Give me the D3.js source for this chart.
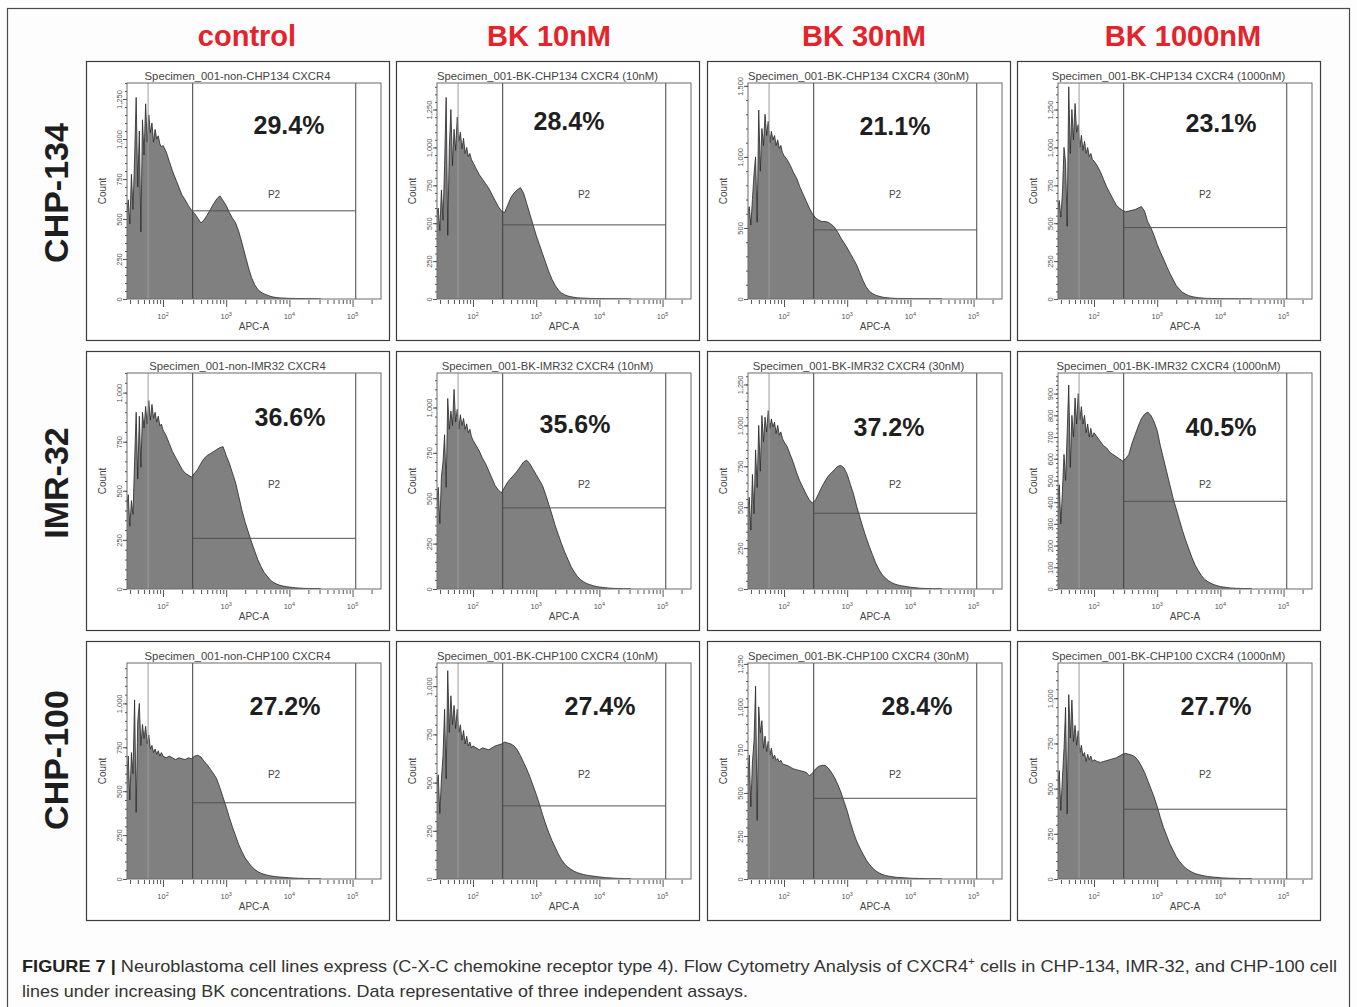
<!DOCTYPE html>
<html>
<head>
<meta charset="utf-8">
<script src="https://cdn.jsdelivr.net/npm/d3@7/dist/d3.min.js"></script>
<style>
  body { margin: 0; background: #fff; }
  svg { display: block; font-family: "Liberation Sans", Arial, sans-serif; }
</style>
</head>
<body>
<script>
// ---- data ----
var treatments = ['control', 'BK 10nM', 'BK 30nM', 'BK 1000nM'];
var cellLines = ['CHP-134', 'IMR-32', 'CHP-100'];

var specimens = [
  ['Specimen_001-non-CHP134 CXCR4', 'Specimen_001-BK-CHP134 CXCR4 (10nM)', 'Specimen_001-BK-CHP134 CXCR4 (30nM)', 'Specimen_001-BK-CHP134 CXCR4 (1000nM)'],
  ['Specimen_001-non-IMR32 CXCR4', 'Specimen_001-BK-IMR32 CXCR4 (10nM)', 'Specimen_001-BK-IMR32 CXCR4 (30nM)', 'Specimen_001-BK-IMR32 CXCR4 (1000nM)'],
  ['Specimen_001-non-CHP100 CXCR4', 'Specimen_001-BK-CHP100 CXCR4 (10nM)', 'Specimen_001-BK-CHP100 CXCR4 (30nM)', 'Specimen_001-BK-CHP100 CXCR4 (1000nM)']
];

// % of cells in gate P2
var positivePct = [
  [29.4, 28.4, 21.1, 23.1],
  [36.6, 35.6, 37.2, 40.5],
  [27.2, 27.4, 28.4, 27.7]
];

// top of the Count axis and its label step
var countMax = [
  [1350, 1425, 1520, 1425],
  [1100, 1190, 1320, 995],
  [1230, 1120, 1255, 1195]
];
var countStep = [
  [250, 250, 500, 250],
  [250, 250, 250, 100],
  [250, 250, 250, 250]
];

// P2 gate: APC-A range and the count level of its horizontal bar
var gateLow = 295, gateHigh = 112000, markerLow = 58;
var gateCount = [
  [551, 489, 486, 471],
  [258, 447, 463, 404],
  [434, 379, 469, 386]
];

// histogram bins, log10(APC-A)
var apcLog = [1.425,1.45,1.475,1.5,1.525,1.55,1.575,1.6,1.625,1.65,1.675,1.7,1.725,1.75,1.775,1.8,1.825,1.85,1.875,1.9,1.925,1.95,1.975,
  2.0,2.05,2.1,2.15,2.2,2.25,2.3,2.35,2.4,2.45,
  2.5,2.55,2.6,2.65,2.7,2.75,2.8,2.85,2.9,2.95,
  3.0,3.05,3.1,3.15,3.2,3.25,3.3,3.35,3.4,3.45,
  3.5,3.55,3.6,3.65,3.7,3.75,3.8,3.85,3.9,3.95,
  4.0,4.05,4.1,4.15,4.2,4.25,4.3,4.35,4.4,4.45,4.5];

// counts per bin
var chp134Control = [540,620,470,780,560,880,1260,700,1050,420,1120,900,1220,980,1150,1040,1100,980,1060,1000,1020,970,950,
  960,920,860,800,750,700,650,620,585,555,
  535,505,475,495,525,560,595,625,645,615,
  585,540,505,475,420,350,275,200,135,90,
  60,42,32,24,17,12,9,7,6,5,
  4,4,3,3,3,2,2,2,2,1,1];
var chp134Bk10 = [560,600,450,720,520,880,1330,420,1000,1250,880,1120,980,1200,1040,1100,990,1060,960,1000,940,960,920,
  900,860,820,790,760,730,690,650,610,580,
  570,620,670,700,720,735,700,630,560,490,
  420,360,300,240,180,130,90,60,40,28,
  20,15,11,8,7,6,5,4,4,3,
  3,3,2,2,2,2,2,1,1,1,1];
var chp134Bk30 = [600,650,520,700,880,1000,540,1330,900,1200,1080,1300,1150,1250,1100,1180,1120,1150,1080,1120,1060,1080,1030,
  1010,980,940,890,850,790,740,690,640,600,
  570,555,545,545,540,525,505,470,430,395,
  360,320,280,240,185,130,85,55,38,27,
  20,14,10,8,6,5,4,4,3,3,
  3,2,2,2,2,2,1,1,1,1,1];
var chp134Bk1000 = [600,650,540,700,1000,900,480,1400,960,1250,1050,1290,1100,1150,1000,1080,980,1040,960,1000,940,960,920,
  910,880,840,790,740,700,660,620,600,585,
  575,580,585,590,600,610,580,510,470,420,
  360,310,265,215,170,130,90,65,45,32,
  22,16,12,9,7,5,4,4,3,3,
  3,2,2,2,2,2,1,1,1,1,1];

var imr32Control = [420,480,320,450,380,650,900,560,880,620,900,820,930,840,960,860,940,870,900,850,880,830,840,
  810,780,740,700,670,640,610,590,580,570,
  590,610,640,665,680,690,700,710,720,725,
  680,640,590,540,470,400,340,290,240,195,
  150,115,85,65,45,33,25,19,15,12,
  10,8,6,5,4,3,3,2,2,2,1];
var imr32Bk10 = [480,560,360,620,700,850,560,1050,880,980,900,1100,920,990,880,960,900,940,880,910,860,880,840,
  820,790,760,720,690,650,610,570,545,530,
  560,590,610,630,650,675,700,710,690,660,
  630,600,570,520,465,410,350,300,250,205,
  165,125,95,70,52,40,30,24,18,14,
  11,9,7,5,4,3,3,2,2,2,1];
var imr32Bk30 = [480,560,360,700,460,850,620,1000,720,1060,900,1050,960,1090,980,1040,990,1020,950,1000,940,960,920,
  900,870,820,770,710,660,620,580,545,525,
  545,585,625,660,690,710,730,750,755,740,
  700,640,580,505,440,375,315,260,210,160,
  120,90,68,52,40,31,25,20,17,14,
  11,9,7,5,4,3,3,2,2,2,1];
var imr32Bk1000 = [420,480,300,450,620,500,720,940,560,800,700,880,760,900,780,840,760,800,720,760,700,740,700,
  720,700,680,660,650,630,620,610,600,590,
  600,620,670,710,750,785,805,815,800,770,
  730,660,600,540,480,420,370,320,270,225,
  185,145,110,85,62,45,34,26,20,15,
  11,9,7,5,4,3,3,2,2,2,1];

var chp100Control = [560,700,450,720,600,1020,380,900,1000,760,880,800,870,770,820,740,760,720,740,710,730,700,720,
  700,690,700,690,680,690,685,680,690,685,
  700,705,695,670,650,625,600,570,520,465,
  410,350,295,245,195,155,120,95,72,55,
  42,33,27,22,18,15,13,11,10,8,
  7,6,5,4,4,3,3,2,2,2,1];
var chp100Bk10 = [480,540,340,520,640,880,520,1080,760,950,800,900,780,880,760,800,720,770,700,740,690,710,680,
  690,680,670,680,675,670,680,690,695,700,
  710,705,700,690,670,640,605,570,530,485,
  440,390,335,285,240,200,165,130,100,78,
  62,50,40,33,28,23,20,17,15,13,
  11,9,7,6,5,4,3,3,2,2,1];
var chp100Bk30 = [560,720,420,680,800,1120,340,1000,850,920,760,830,740,800,720,760,700,720,690,700,680,690,670,
  665,660,650,640,635,630,625,620,600,615,
  640,655,660,660,645,620,590,550,505,450,
  395,330,270,220,180,145,112,85,65,48,
  36,27,21,17,14,11,9,8,7,6,
  5,4,4,3,3,2,2,2,2,1,1];
var chp100Bk1000 = [520,600,380,560,720,950,360,1020,780,990,760,850,740,820,700,740,680,700,650,690,660,680,650,
  660,650,645,650,655,660,665,670,680,690,
  695,690,685,675,655,625,590,545,500,455,
  400,340,285,240,195,160,125,98,78,60,
  48,38,30,25,21,17,14,12,10,9,
  7,6,5,4,4,3,3,2,2,2,1];

var counts = [
  [chp134Control, chp134Bk10, chp134Bk30, chp134Bk1000],
  [imr32Control, imr32Bk10, imr32Bk30, imr32Bk1000],
  [chp100Control, chp100Bk10, chp100Bk30, chp100Bk1000]
];

// ---- layout ----
var colX = [86, 396, 707, 1017], rowY = [61, 351, 641];
var panelW = 303, panelH = 279;
var plot = {left: 41, right: 295, top: 22, bottom: 238};
var headerX = [247, 549, 864, 1183];
var rowLabelY = [193, 483, 760];
// centre of the big % label inside each panel
var pctAt = [
  [[203, 64], [173, 60], [188, 65], [204, 62]],
  [[204, 66], [179, 73], [182, 76], [204, 76]],
  [[199, 65], [204, 65], [210, 65], [199, 65]]
];

var svg = d3.select('body').append('svg')
    .attr('width', 1357)
    .attr('height', 1007);

svg.append('rect')
    .attr('width', 1357).attr('height', 1007)
    .attr('fill', '#fdfdfd');

// figure border
svg.append('rect')
    .attr('x', 7.5).attr('y', 8.5)
    .attr('width', 1342).attr('height', 1010)
    .attr('fill', 'none')
    .attr('stroke', '#4a4a4a')
    .attr('stroke-width', 1.2);

// column headers
svg.selectAll('.hdr').data(treatments).enter().append('text')
    .attr('x', function(d, i) { return headerX[i]; })
    .attr('y', 46)
    .attr('text-anchor', 'middle')
    .attr('font-size', 29)
    .attr('font-weight', 'bold')
    .attr('fill', '#e5232a')
    .text(function(d) { return d; });

// row labels
svg.selectAll('.rowlab').data(cellLines).enter().append('text')
    .attr('transform', function(d, i) { return 'translate(68,' + rowLabelY[i] + ') rotate(-90)'; })
    .attr('text-anchor', 'middle')
    .attr('font-size', 34)
    .attr('font-weight', 'bold')
    .attr('fill', '#1e1e1e')
    .text(function(d) { return d; });

var x = d3.scaleLog()
    .domain([Math.pow(10, 1.43), Math.pow(10, 5.45)])
    .range([plot.left, plot.right]);

var xMajor = [1e2, 1e3, 1e4, 1e5];
var xMinor = [];
[1, 2, 3, 4, 5].forEach(function(n) {
  for (var k = 2; k <= 9; k++) {
    var v = k * Math.pow(10, n);
    if (v > x.domain()[0] && v < x.domain()[1]) xMinor.push(v);
  }
});

counts.forEach(function(rowCounts, r) {
  rowCounts.forEach(function(cnt, c) {
    var k = r * 4 + c;
    var g = svg.append('g')
        .attr('transform', 'translate(' + colX[c] + ',' + rowY[r] + ')');

    // outer panel frame
    g.append('rect')
        .attr('x', 0.5).attr('y', 0.5)
        .attr('width', panelW).attr('height', panelH)
        .attr('fill', '#fff')
        .attr('stroke', '#3c3c3c')
        .attr('stroke-width', 1.2);

    var y = d3.scaleLinear()
        .domain([0, countMax[r][c]])
        .range([plot.bottom, plot.top]);

    g.append('clipPath').attr('id', 'clip' + k)
      .append('rect')
        .attr('x', plot.left).attr('y', plot.top)
        .attr('width', plot.right - plot.left)
        .attr('height', plot.bottom - plot.top);

    var bins = apcLog.map(function(b, i) { return {v: Math.pow(10, b), n: cnt[i]}; });

    var area = d3.area()
        .defined(function(d) { return d.n != null; })
        .x(function(d) { return x(d.v); })
        .y0(y(0))
        .y1(function(d) { return y(d.n); });

    g.append('path')
        .datum(bins)
        .attr('clip-path', 'url(#clip' + k + ')')
        .attr('d', area)
        .attr('fill', '#808080');

    g.append('path')
        .datum(bins)
        .attr('clip-path', 'url(#clip' + k + ')')
        .attr('d', area.lineY1())
        .attr('fill', 'none')
        .attr('stroke', '#262626')
        .attr('stroke-width', 0.8);

    // gate lines
    g.append('line')
        .attr('x1', x(markerLow)).attr('x2', x(markerLow))
        .attr('y1', plot.top).attr('y2', plot.bottom)
        .attr('stroke', '#9c9c9c').attr('stroke-width', 1);
    g.append('line')
        .attr('x1', x(gateLow)).attr('x2', x(gateLow))
        .attr('y1', plot.top).attr('y2', plot.bottom)
        .attr('stroke', '#3d3d3d').attr('stroke-width', 1);
    g.append('line')
        .attr('x1', x(gateHigh)).attr('x2', x(gateHigh))
        .attr('y1', plot.top).attr('y2', plot.bottom)
        .attr('stroke', '#707070').attr('stroke-width', 1.3);
    g.append('line')
        .attr('x1', x(gateLow)).attr('x2', x(gateHigh))
        .attr('y1', y(gateCount[r][c])).attr('y2', y(gateCount[r][c]))
        .attr('stroke', '#505050').attr('stroke-width', 1);

    // inner frame
    g.append('rect')
        .attr('x', plot.left).attr('y', plot.top)
        .attr('width', plot.right - plot.left)
        .attr('height', plot.bottom - plot.top)
        .attr('fill', 'none')
        .attr('stroke', '#6a6a6a')
        .attr('stroke-width', 1);

    // y axis
    var step = countStep[r][c];
    var yMajor = d3.range(0, countMax[r][c] + 1, step);
    var yMinor = d3.range(0, countMax[r][c] + 1, step / 5);

    g.append('g')
        .attr('transform', 'translate(' + plot.left + ',0)')
        .call(d3.axisLeft(y).tickValues(yMinor).tickSize(2).tickFormat(''))
        .call(function(a) { a.select('.domain').remove(); a.selectAll('line').attr('stroke', '#555'); });

    var ya = g.append('g')
        .attr('transform', 'translate(' + plot.left + ',0)')
        .call(d3.axisLeft(y).tickValues(yMajor).tickSize(4).tickFormat(d3.format(',')));
    ya.select('.domain').remove();
    ya.selectAll('line').attr('stroke', '#555');
    ya.selectAll('text')
        .attr('x', null).attr('dy', null)
        .attr('text-anchor', 'middle')
        .attr('transform', 'translate(-5,0) rotate(-90)')
        .attr('font-size', 7.5)
        .attr('font-family', '"Liberation Sans", Arial, sans-serif')
        .attr('fill', '#555');

    // x axis
    g.append('g')
        .attr('transform', 'translate(0,' + (plot.bottom + 1) + ')')
        .call(d3.axisBottom(x).tickValues(xMinor).tickSize(4).tickFormat(''))
        .call(function(a) { a.select('.domain').remove(); a.selectAll('line').attr('stroke', '#555'); });
    g.append('g')
        .attr('transform', 'translate(0,' + (plot.bottom + 1) + ')')
        .call(d3.axisBottom(x).tickValues(xMajor).tickSize(7).tickFormat(''))
        .call(function(a) { a.select('.domain').remove(); a.selectAll('line').attr('stroke', '#555'); });

    var xl = g.selectAll('.xl').data(xMajor).enter().append('text')
        .attr('x', function(d) { return x(d); })
        .attr('y', plot.bottom + 20)
        .attr('text-anchor', 'middle')
        .attr('font-size', 7.5)
        .attr('fill', '#555');
    xl.append('tspan').text('10');
    xl.append('tspan')
        .attr('dy', -3.5)
        .attr('font-size', 5.5)
        .text(function(d) { return Math.round(Math.log10(d)); });

    g.append('text')
        .attr('x', (plot.left + plot.right) / 2)
        .attr('y', plot.bottom + 31)
        .attr('text-anchor', 'middle')
        .attr('font-size', 10)
        .attr('fill', '#444')
        .text('APC-A');

    g.append('text')
        .attr('transform', 'translate(19.5,' + ((plot.top + plot.bottom) / 2) + ') rotate(-90)')
        .attr('text-anchor', 'middle')
        .attr('font-size', 10)
        .attr('fill', '#444')
        .text('Count');

    // specimen title
    g.append('text')
        .attr('x', panelW / 2)
        .attr('y', 19)
        .attr('text-anchor', 'middle')
        .attr('font-size', 11.3)
        .attr('fill', '#444')
        .text(specimens[r][c]);

    g.append('text')
        .attr('x', 188)
        .attr('y', 137)
        .attr('text-anchor', 'middle')
        .attr('font-size', 10)
        .attr('fill', '#444')
        .text('P2');

    g.append('text')
        .attr('x', pctAt[r][c][0])
        .attr('y', pctAt[r][c][1] + 9)
        .attr('text-anchor', 'middle')
        .attr('font-size', 25)
        .attr('font-weight', 'bold')
        .attr('fill', '#1f1f1f')
        .text(positivePct[r][c].toFixed(1) + '%');
  });
});

// caption
var cap1 = svg.append('text')
    .attr('x', 22).attr('y', 972)
    .attr('font-size', 17)
    .attr('fill', '#333')
    .attr('textLength', 1315)
    .attr('lengthAdjust', 'spacingAndGlyphs');
cap1.append('tspan').attr('font-weight', 'bold').attr('fill', '#222').text('FIGURE 7 | ');
cap1.append('tspan').text('Neuroblastoma cell lines express (C-X-C chemokine receptor type 4). Flow Cytometry Analysis of CXCR4');
cap1.append('tspan').attr('font-size', 11).attr('dy', -7).text('+');
cap1.append('tspan').attr('dy', 7).text(' cells in CHP-134, IMR-32, and CHP-100 cell');

svg.append('text')
    .attr('x', 22).attr('y', 997)
    .attr('font-size', 17)
    .attr('fill', '#333')
    .attr('textLength', 726)
    .attr('lengthAdjust', 'spacingAndGlyphs')
    .text('lines under increasing BK concentrations. Data representative of three independent assays.');
</script>
</body>
</html>
